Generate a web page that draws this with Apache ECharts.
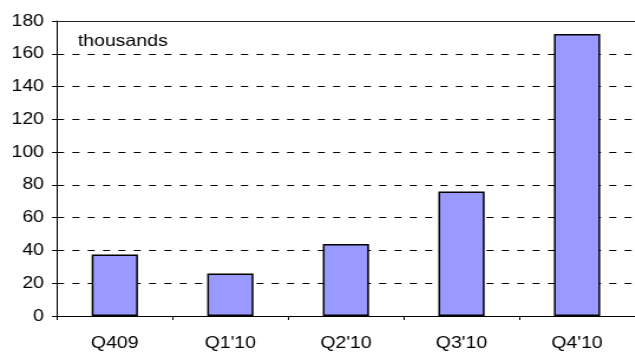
<!DOCTYPE html>
<html>
<head>
<meta charset="utf-8">
<script src="https://cdn.jsdelivr.net/npm/echarts@6/dist/echarts.min.js"></script>
<style>
  html, body { margin: 0; padding: 0; background: #fff; overflow: hidden; }
  #wrap { width: 635px; height: 352px; overflow: hidden; }
  /* the chart is laid out narrower and widened so the type reads slightly broad */
  #chart { width: 538px; height: 352px; transform: scaleX(1.18); transform-origin: 0 0; }
</style>
</head>
<body>
<div id="wrap"><div id="chart"></div></div>
<script>
const categories = ["Q409", "Q1'10", "Q2'10", "Q3'10", "Q4'10"];
const values = [37.5, 26, 44, 76, 172];
const yTicks = [0, 20, 40, 60, 80, 100, 120, 140, 160, 180];
const unitLabel = "thousands";

const font = "'Liberation Sans', Arial, sans-serif";
const chart = echarts.init(document.getElementById('chart'), null, { renderer: 'canvas' });

chart.setOption({
  animation: false,
  backgroundColor: '#fff',
  grid: { left: 48.3, top: 21, bottom: 35, width: 499, containLabel: false },
  xAxis: [{
    type: 'category',
    data: categories,
    boundaryGap: true,
    axisLine: { lineStyle: { color: '#000', width: 1 } },
    axisTick: { show: true, length: 4, lineStyle: { color: '#000' } },
    axisLabel: { color: '#000', fontSize: 16.5, fontFamily: font, margin: 19 },
    splitLine: { show: false }
  }, {
    type: 'category',
    position: 'top',
    data: categories,
    axisLine: { lineStyle: { color: '#222', width: 1 } },
    axisTick: { show: false },
    axisLabel: { show: false }
  }],
  yAxis: {
    type: 'value',
    min: yTicks[0],
    max: yTicks[yTicks.length - 1],
    interval: yTicks[1] - yTicks[0],
    axisLine: { show: true, lineStyle: { color: '#000', width: 1 } },
    axisTick: { show: true, length: 4.2, lineStyle: { color: '#000' } },
    axisLabel: { color: '#000', fontSize: 16.5, fontFamily: font, margin: 11 },
    splitLine: { show: true, lineStyle: { color: '#000', width: 1, type: [6, 7] } }
  },
  graphic: [{
    type: 'text',
    left: 66,
    top: 33,
    style: { text: unitLabel, fill: '#000', font: '16.5px ' + font }
  }],
  series: [{
    type: 'bar',
    data: values,
    barWidth: '40%',
    itemStyle: { color: '#9999FF', borderColor: '#000', borderWidth: 1.5 }
  }]
});
</script>
</body>
</html>
